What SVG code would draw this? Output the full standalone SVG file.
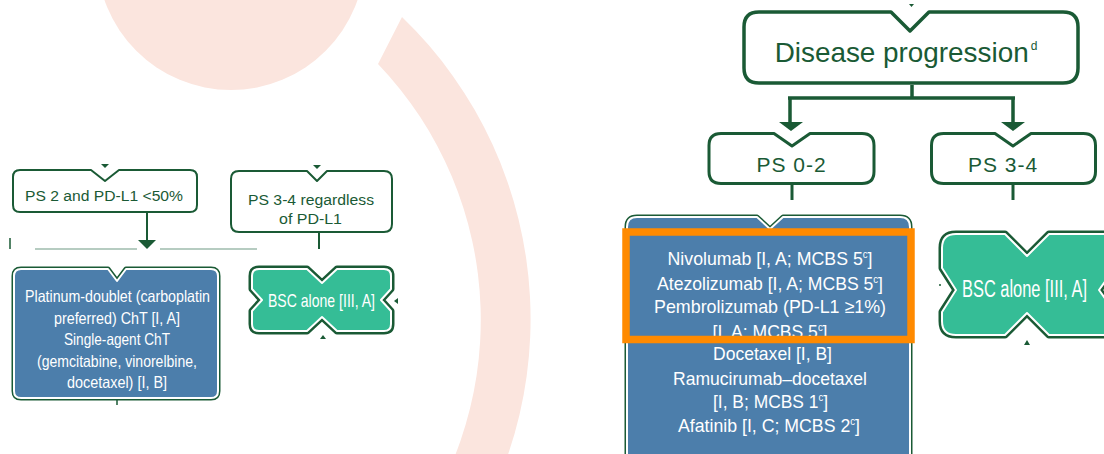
<svg xmlns="http://www.w3.org/2000/svg" xmlns:xlink="http://www.w3.org/1999/xlink" width="1104" height="454" viewBox="0 0 1104 454">
  <style>
    .bg { fill: #FBE5DE; }
    .box { fill: #ffffff; stroke: #1A5A35; stroke-linejoin: round; }
    .halo { fill: none; stroke: #1A5A35; stroke-linejoin: round; }
    .blue { fill: #4C7EAB; stroke: #ffffff; stroke-width: 2; stroke-linejoin: round; }
    .green { fill: #35BD96; stroke: #ffffff; stroke-width: 2; stroke-linejoin: round; }
    .lbl { font-family: "Liberation Sans", Arial, sans-serif; fill: #1A5A35; text-anchor: middle; }
    .wt { font-family: "Liberation Sans Narrow", "Liberation Sans", Arial, sans-serif; fill: #ffffff; text-anchor: middle; }
    .ln { fill: none; stroke: #1A5A35; }
    .thin { fill: none; stroke: #6F9A84; stroke-width: 1.2; }
    .head { fill: #1A5A35; }
  </style>
  <defs>
    <path id="shape-chemo" d="M21,269 H108 L117,281 L126,269 H211 Q218,269 218,276 V391 Q218,398 211,398 H21 Q14,398 14,391 V276 Q14,269 21,269 Z"/>
    <path id="shape-bsc-left" d="M259,269 H307 L322,283 L337,269 H384 Q391,269 391,276 V289 L381,300 L391,311 V324 Q391,331 384,331 H337 L322,317 L307,331 H259 Q252,331 252,324 V311 L262,300 L252,289 V276 Q252,269 259,269 Z"/>
    <path id="shape-second" d="M637,217 H757 L770,229 L783,217 H900 Q910,217 910,227 V470 H627 V227 Q627,217 637,217 Z"/>
    <path id="shape-bsc-right" d="M956,234 H1005 L1027,256 L1049,234 H1112 V272 L1099,290 L1112,308 V335 H1049 L1027,313 L1005,335 H956 Q942,335 942,321 V312 L956,290 L942,268 V248 Q942,234 956,234 Z"/>
  </defs>

  <!-- soft background decoration -->
  <g id="background">
    <circle class="bg" cx="231" cy="-44" r="134"/>
    <path class="bg" d="M402,17 A419,419 0 0 1 432,589 L394,558 A370,370 0 0 0 378,64 Z"/>
  </g>

  <!-- connectors -->
  <g id="connectors">
    <!-- left column -->
    <path class="head" d="M101,164 L109,164 L105,168 Z"/>
    <path class="head" d="M313,165 L321,165 L317,169 Z"/>
    <line class="ln" x1="147" y1="213" x2="147" y2="241" stroke-width="2"/>
    <path class="head" d="M138,240 L156,240 L147,249 Z"/>
    <line class="thin" x1="35" y1="249" x2="137" y2="249"/>
    <line class="thin" x1="160" y1="249" x2="257" y2="249"/>
    <line class="ln" x1="10" y1="238" x2="10" y2="249" stroke-width="1.5"/>
    <line class="ln" x1="319" y1="233" x2="319" y2="249" stroke-width="2"/>
    <line class="ln" x1="117" y1="400" x2="117" y2="405" stroke-width="1.5"/>
    <path class="head" d="M320,339 L326,339 L323,335 Z"/>
    <path class="head" d="M398,298 L398,304 L394,301 Z"/>
    <!-- right column -->
    <path class="head" d="M909,4 L914,4 L911.5,7 Z"/>
    <path class="ln" d="M912,85 V98 M788,98 H1015 M790,97 V124 M1013,97 V124" stroke-width="3.5"/>
    <path class="head" d="M779,122 L803,122 L791,131 Z"/>
    <path class="head" d="M1001,122 L1025,122 L1013,131 Z"/>
    <line class="ln" x1="792" y1="185" x2="792" y2="200" stroke-width="3"/>
    <line class="ln" x1="1013" y1="185" x2="1013" y2="200" stroke-width="3"/>
    <path class="head" d="M1024,345 L1030,345 L1027,340 Z"/>
    <circle class="head" cx="940" cy="285" r="1"/>
  </g>

  <!-- first-line / left branch -->
  <g id="node-ps2">
    <path class="box" stroke-width="2" d="M20,170 H91 L105,181 L119,170 H190 Q197,170 197,177 V205 Q197,212 190,212 H20 Q13,212 13,205 V177 Q13,170 20,170 Z"/>
    <text class="lbl" x="104" y="201" font-size="15.5" textLength="158" lengthAdjust="spacingAndGlyphs">PS 2 and PD-L1 &lt;50%</text>
  </g>

  <g id="node-ps34-any">
    <path class="box" stroke-width="2" d="M239,171 H307 L317,181 L327,171 H384 Q392,171 392,179 V224 Q392,232 384,232 H239 Q231,232 231,224 V179 Q231,171 239,171 Z"/>
    <text class="lbl" x="311" y="205" font-size="15.5" textLength="126" lengthAdjust="spacingAndGlyphs">PS 3-4 regardless</text>
    <text class="lbl" x="310.5" y="224" font-size="15.5" textLength="63" lengthAdjust="spacingAndGlyphs">of PD-L1</text>
  </g>

  <g id="node-chemo">
    <use href="#shape-chemo" class="halo" stroke-width="5"/>
    <use href="#shape-chemo" class="blue"/>
    <text class="wt" x="117.5" y="302" font-size="16.5" textLength="185" lengthAdjust="spacingAndGlyphs">Platinum-doublet (carboplatin</text>
    <text class="wt" x="117" y="323.5" font-size="16.5" textLength="126" lengthAdjust="spacingAndGlyphs">preferred) ChT [I, A]</text>
    <text class="wt" x="117" y="345" font-size="16.5" textLength="106" lengthAdjust="spacingAndGlyphs">Single-agent ChT</text>
    <text class="wt" x="117" y="366.5" font-size="16.5" textLength="160" lengthAdjust="spacingAndGlyphs">(gemcitabine, vinorelbine,</text>
    <text class="wt" x="117" y="388" font-size="16.5" textLength="100" lengthAdjust="spacingAndGlyphs">docetaxel) [I, B]</text>
  </g>

  <g id="node-bsc-left">
    <use href="#shape-bsc-left" class="halo" stroke-width="7"/>
    <use href="#shape-bsc-left" class="green"/>
    <text class="wt" x="321.5" y="307" font-size="19" textLength="107" lengthAdjust="spacingAndGlyphs">BSC alone [III, A]</text>
  </g>

  <!-- progression / right branch -->
  <g id="node-progression">
    <path class="box" stroke-width="3.5" d="M759,12 H891 L910,31 L929,12 H1063 Q1078,12 1078,27 V68 Q1078,83 1063,83 H759 Q744,83 744,68 V27 Q744,12 759,12 Z"/>
    <text class="lbl" x="906" y="62" font-size="27.5"><tspan textLength="254" lengthAdjust="spacingAndGlyphs">Disease progression</tspan><tspan font-size="12" dx="2" dy="-12">d</tspan></text>
  </g>

  <g id="node-ps02">
    <path class="box" stroke-width="3" d="M721,133.5 H774 L792,146 L810,133.5 H862 Q874,133.5 874,145.5 V171.5 Q874,183.5 862,183.5 H721 Q709,183.5 709,171.5 V145.5 Q709,133.5 721,133.5 Z"/>
    <text class="lbl" x="791.5" y="172" font-size="21" letter-spacing="1">PS 0-2</text>
  </g>

  <g id="node-ps34">
    <path class="box" stroke-width="3" d="M943.5,133.5 H995 L1013,146 L1031,133.5 H1083.5 Q1095.5,133.5 1095.5,145.5 V171.5 Q1095.5,183.5 1083.5,183.5 H943.5 Q931.5,183.5 931.5,171.5 V145.5 Q931.5,133.5 943.5,133.5 Z"/>
    <text class="lbl" x="1003" y="172" font-size="21" letter-spacing="1">PS 3-4</text>
  </g>

  <g id="node-second-line">
    <use href="#shape-second" class="halo" stroke-width="5"/>
    <use href="#shape-second" class="blue"/>
    <text class="wt" x="770" y="265" font-size="18.5" textLength="205" lengthAdjust="spacingAndGlyphs">Nivolumab [I, A; MCBS 5<tspan font-size="10" dy="-7">c</tspan><tspan dy="7">]</tspan></text>
    <text class="wt" x="770" y="289.5" font-size="18.5" textLength="226" lengthAdjust="spacingAndGlyphs">Atezolizumab [I, A; MCBS 5<tspan font-size="10" dy="-7">c</tspan><tspan dy="7">]</tspan></text>
    <text class="wt" x="770" y="313" font-size="18.5" textLength="232" lengthAdjust="spacingAndGlyphs">Pembrolizumab (PD-L1 ≥1%)</text>
    <text class="wt" x="770" y="337.5" font-size="18.5" textLength="115" lengthAdjust="spacingAndGlyphs">[I, A; MCBS 5<tspan font-size="10" dy="-7">c</tspan><tspan dy="7">]</tspan></text>
    <text class="wt" x="772.5" y="360" font-size="18.5" textLength="119" lengthAdjust="spacingAndGlyphs">Docetaxel [I, B]</text>
    <text class="wt" x="770" y="385" font-size="18.5" textLength="194" lengthAdjust="spacingAndGlyphs">Ramucirumab–docetaxel</text>
    <text class="wt" x="770.5" y="408" font-size="18.5" textLength="115" lengthAdjust="spacingAndGlyphs">[I, B; MCBS 1<tspan font-size="10" dy="-7">c</tspan><tspan dy="7">]</tspan></text>
    <text class="wt" x="769" y="432" font-size="18.5" textLength="182" lengthAdjust="spacingAndGlyphs">Afatinib [I, C; MCBS 2<tspan font-size="10" dy="-7">c</tspan><tspan dy="7">]</tspan></text>
    <!-- highlight frame around the immunotherapy options -->
    <rect x="626" y="232" width="285" height="107.5" fill="none" stroke="#FF8A00" stroke-width="7.5"/>
  </g>

  <g id="node-bsc-right">
    <use href="#shape-bsc-right" class="halo" stroke-width="7"/>
    <use href="#shape-bsc-right" class="green"/>
    <text class="wt" x="1024.5" y="297" font-size="23" textLength="125" lengthAdjust="spacingAndGlyphs">BSC alone [III, A]</text>
  </g>
</svg>
